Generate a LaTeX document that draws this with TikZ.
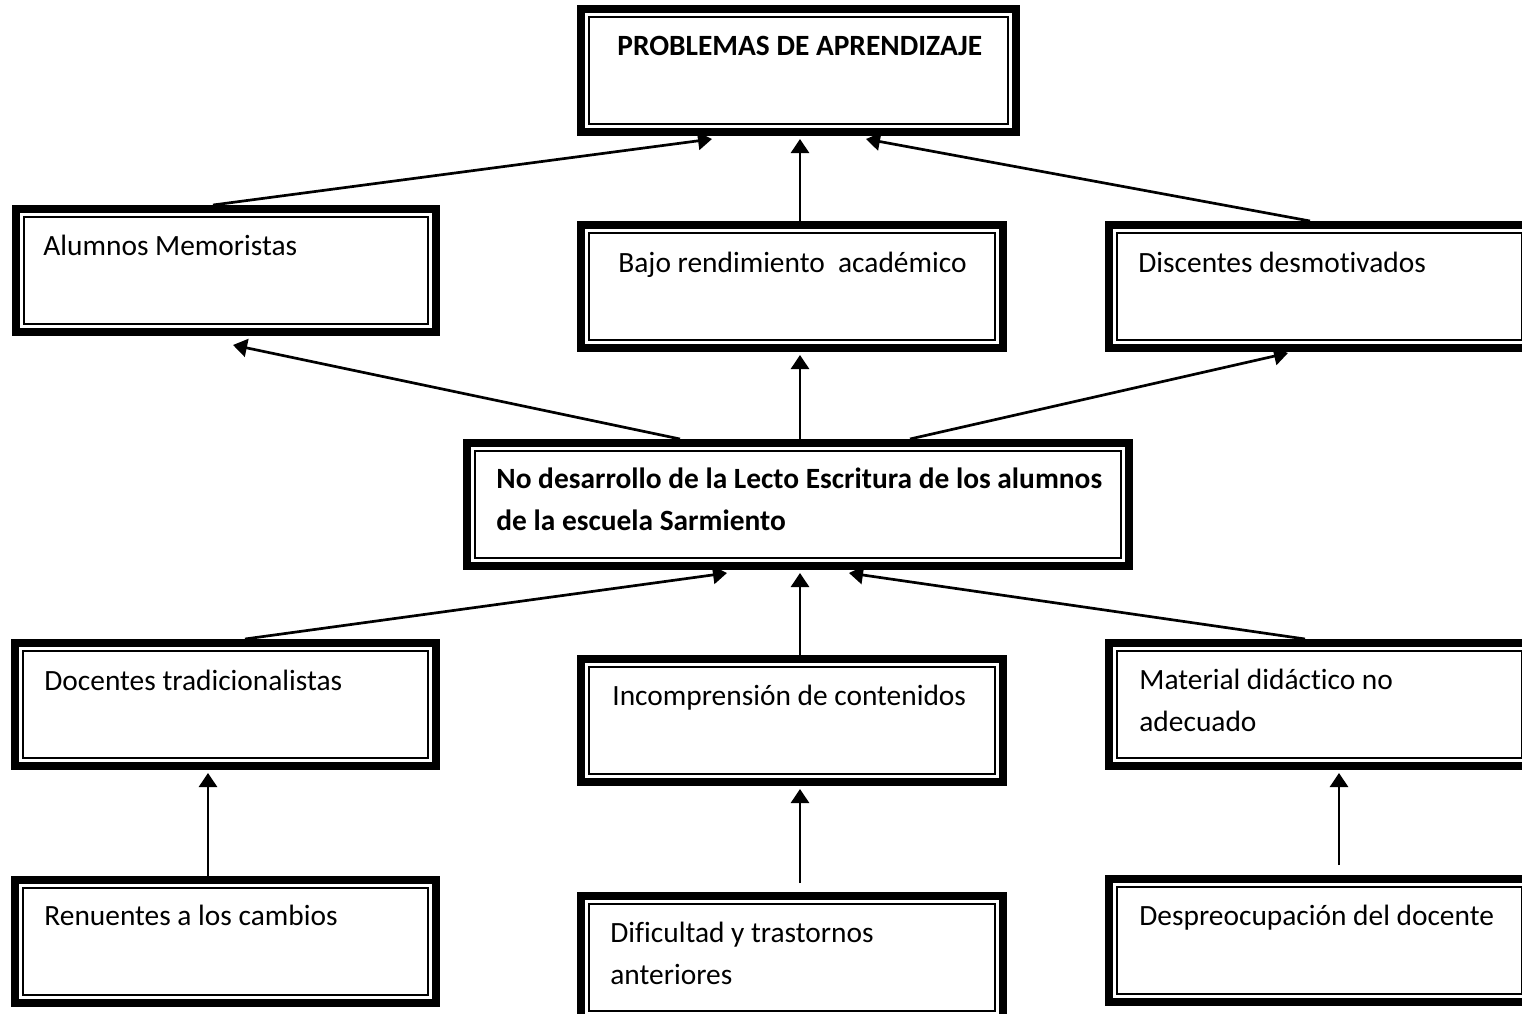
\documentclass[tikz,border=0pt]{standalone}
\usepackage{fontspec}
\setmainfont[Ligatures=NoCommon]{Carlito}
\usetikzlibrary{calc,arrows.meta}
\newcommand\dblbox[5]{%
  \node[boxn, minimum width=#4*0.5pt, minimum height=#5*0.5pt] (#1) at (#2,#3) {};
  \draw[line width=4.2pt] ([shift={(2.1pt,-2.1pt)}]#1.north west) rectangle ([shift={(-2.1pt,2.1pt)}]#1.south east);
  \draw[line width=0.8pt] ([shift={(6pt,-6pt)}]#1.north west) rectangle ([shift={(-6pt,6pt)}]#1.south east);
}
\begin{document}
\begin{tikzpicture}[x=0.5pt,y=-0.5pt,
  boxn/.style={anchor=north west, inner sep=0pt, outer sep=0pt},
  lbl/.style={anchor=base west, inner sep=0pt, font=\fontsize{14.7pt}{21pt}\selectfont, align=left},
  conn/.style={line width=1.35pt, -{Triangle[length=7pt,width=9pt]}}]
\useasboundingbox (0,0) rectangle (1522,1013);
\clip (0,0) rectangle (1522,1013);

% boxes
\dblbox{top}{577}{5}{443}{131}
\dblbox{alum}{12}{205}{428}{131}
\dblbox{bajo}{577}{221}{430}{131}
\dblbox{disc}{1105}{221}{429}{131}
\dblbox{cent}{463}{439}{670}{131}
\dblbox{doc}{11}{639}{429}{131}
\dblbox{inc}{577}{655}{430}{131}
\dblbox{mat}{1105}{639}{429}{131}
\dblbox{ren}{11}{876}{429}{131}
\dblbox{dif}{577}{892}{430}{131}
\dblbox{desp}{1105}{875}{429}{131}

% texts (multi-line nodes are anchored at the baseline of their last line)
\node[lbl, font=\fontsize{14.7pt}{21pt}\selectfont\bfseries] (ttop) at (617,55) {PROBLEMAS DE APRENDIZAJE};
\node[lbl] (talum) at (43,255) {Alumnos Memoristas};
\node[lbl] (tbajo) at (618,272) {Bajo rendimiento\ \ académico};
\node[lbl] (tdisc) at (1138,272) {Discentes desmotivados};
\node[lbl, font=\fontsize{14.7pt}{21pt}\selectfont\bfseries] (tcent) at (496,530) {No desarrollo de la Lecto Escritura de los alumnos\\de la escuela Sarmiento};
\node[lbl] (tdoc) at (44,690) {Docentes tradicionalistas};
\node[lbl] (tinc) at (612,705) {Incomprensión de contenidos};
\node[lbl] (tmat) at (1139,731) {Material didáctico no\\adecuado};
\node[lbl] (tren) at (44,925) {Renuentes a los cambios};
\node[lbl] (tdif) at (610,984) {Dificultad y trastornos\\anteriores};
\node[lbl] (tdesp) at (1139,925) {Despreocupación del docente};

% connectors
\draw[conn] ($(alum.north west)+(201,0)$) -- ($(top.south west)+(135,3)$);
\draw[conn] ($(bajo.north west)+(223,0)$) -- ($(top.south west)+(223,3)$);
\draw[conn] ($(disc.north west)+(205,0)$) -- ($(top.south west)+(289,3)$);
\draw[conn] ($(cent.north west)+(217,0)$) -- ($(alum.south west)+(221,9)$);
\draw[conn] ($(cent.north west)+(337,0)$) -- ($(bajo.south west)+(223,3)$);
\draw[conn] ($(cent.north west)+(447,0)$) -- ($(disc.south west)+(183,1)$);
\draw[conn] ($(doc.north west)+(234,0)$) -- ($(cent.south west)+(264,3)$);
\draw[conn] ($(inc.north west)+(223,0)$) -- ($(cent.south west)+(337,3)$);
\draw[conn] ($(mat.north west)+(200,0)$) -- ($(cent.south west)+(386,3)$);
\draw[conn] ($(ren.north west)+(197,0)$) -- ($(doc.south west)+(197,3)$);
\draw[conn] ($(dif.north west)+(223,-9)$) -- ($(inc.south west)+(223,3)$);
\draw[conn] ($(desp.north west)+(234,-10)$) -- ($(mat.south west)+(234,3)$);
\end{tikzpicture}
\end{document}
